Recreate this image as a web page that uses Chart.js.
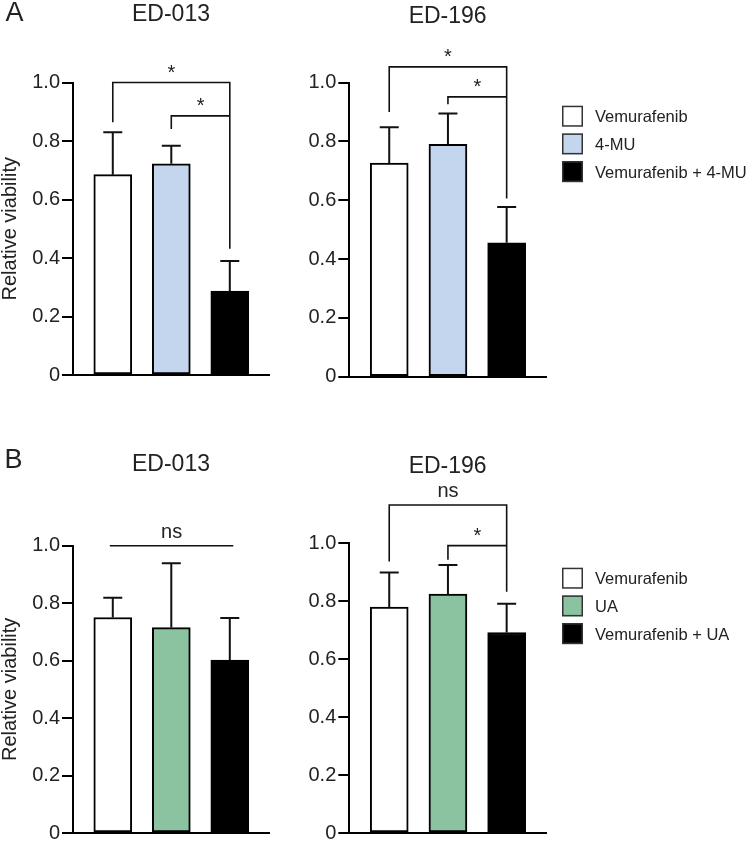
<!DOCTYPE html>
<html>
<head>
<meta charset="utf-8">
<script src="https://cdn.jsdelivr.net/npm/chart.js@4.4.1/dist/chart.umd.min.js"></script>
<style>
  html, body { margin: 0; padding: 0; background: #fff; }
  body { width: 749px; height: 847px; position: relative; overflow: hidden; }
  canvas { position: absolute; }
</style>
</head>
<body>
<canvas id="a013" width="280" height="400" style="left:0px; top:0px;"></canvas>
<canvas id="a196" width="469" height="400" style="left:280px; top:0px;"></canvas>
<canvas id="b013" width="280" height="427" style="left:0px; top:420px;"></canvas>
<canvas id="b196" width="469" height="427" style="left:280px; top:420px;"></canvas>

<script>
// ---- data ----
const groupsMU = ['Vemurafenib', '4-MU', 'Vemurafenib + 4-MU'];
const groupsUA = ['Vemurafenib', 'UA', 'Vemurafenib + UA'];

const yTicks = [0, 0.2, 0.4, 0.6, 0.8, 1.0];

// mean relative viability and SD (upper error bar only)
const meanA013 = [0.685, 0.722, 0.287];
const sdA013   = [0.145, 0.062, 0.103];
const meanA196 = [0.726, 0.790, 0.455];
const sdA196   = [0.122, 0.105, 0.122];
const meanB013 = [0.750, 0.715, 0.602];
const sdB013   = [0.069, 0.224, 0.146];
const meanB196 = [0.780, 0.825, 0.692];
const sdB196   = [0.119, 0.100, 0.099];

// significance brackets: bar index span, bracket level, drop ends (in y units)
const sigA013 = [
  { from: 0, to: 2, top: 1.0,   left: 0.864, right: 0.432, text: '*' },
  { from: 1, to: 2, top: 0.886, left: 0.841, right: 0.886, text: '*' }
];
const sigA196 = [
  { from: 0, to: 2, top: 1.053, left: 0.900, right: 0.606, text: '*' },
  { from: 1, to: 2, top: 0.951, left: 0.926, right: 0.951, text: '*' }
];
const sigB013 = [
  { from: -0.05, to: 2.06, top: 1.0, left: 1.0, right: 1.0, text: 'ns' }
];
const sigB196 = [
  { from: 0, to: 2, top: 1.132, left: 0.937, right: 0.833, text: 'ns' },
  { from: 1, to: 2, top: 0.992, left: 0.943, right: 0.992, text: '*' }
];

const fillMU = ['#ffffff', '#c4d6ed', '#000000'];
const fillUA = ['#ffffff', '#8bc3a1', '#000000'];

const FONT = '"Liberation Sans", Arial, sans-serif';
const INK = '#222';

// ---- error bars, brackets, legend, panel letter ----
const annotPlugin = {
  id: 'annot',
  afterDatasetsDraw(chart, args, opts) {
    const { ctx, chartArea } = chart;
    const x = chart.scales.x, y = chart.scales.y;
    ctx.save();
    ctx.strokeStyle = '#111';
    ctx.lineCap = 'butt';

    // error bars
    ctx.lineWidth = 2;
    opts.means.forEach((m, i) => {
      const px = x.getPixelForValue(i);
      const y0 = y.getPixelForValue(m);
      const y1 = y.getPixelForValue(m + opts.sd[i]);
      ctx.beginPath();
      ctx.moveTo(px, y0);
      ctx.lineTo(px, y1);
      ctx.moveTo(px - 9.5, y1);
      ctx.lineTo(px + 9.5, y1);
      ctx.stroke();
    });

    // brackets
    ctx.lineWidth = 1.6;
    ctx.font = '20px ' + FONT;
    ctx.fillStyle = INK;
    ctx.textAlign = 'center';
    ctx.textBaseline = 'alphabetic';
    opts.sig.forEach(b => {
      const xl = x.getPixelForValue(b.from);
      const xr = x.getPixelForValue(b.to);
      const yt = y.getPixelForValue(b.top);
      ctx.beginPath();
      ctx.moveTo(xl, y.getPixelForValue(b.left));
      ctx.lineTo(xl, yt);
      ctx.lineTo(xr, yt);
      ctx.lineTo(xr, y.getPixelForValue(b.right));
      ctx.stroke();
      const m = ctx.measureText(b.text);
      const cy = yt - 13.5;
      const base = cy + (m.actualBoundingBoxAscent - m.actualBoundingBoxDescent) / 2;
      ctx.fillText(b.text, (xl + xr) / 2, base);
    });

    // legend to the right of the plot
    if (opts.legend) {
      const lx = chartArea.right + 16;
      let ly = chartArea.top + opts.legend.top;
      ctx.font = '16.5px ' + FONT;
      ctx.textAlign = 'left';
      ctx.lineWidth = 1.5;
      ctx.strokeStyle = '#333';
      opts.legend.labels.forEach((lab, i) => {
        ctx.fillStyle = opts.legend.fills[i];
        ctx.fillRect(lx, ly, 21, 21);
        ctx.strokeRect(lx + 0.75, ly + 0.75, 19.5, 19.5);
        ctx.fillStyle = INK;
        ctx.fillText(lab, lx + 33, ly + 10.5 + 6.2);
        ly += 27.7;
      });
    }

    // panel letter
    if (opts.letter) {
      ctx.font = '27px ' + FONT;
      ctx.textAlign = 'left';
      ctx.fillStyle = INK;
      ctx.fillText(opts.letter.text, opts.letter.x, opts.letter.y);
    }
    ctx.restore();
  }
};

function makeChart(id, cfg) {
  const ctx = document.getElementById(id).getContext('2d');
  return new Chart(ctx, {
    type: 'bar',
    data: {
      datasets: [{
        data: cfg.means.map((v, i) => ({ x: i, y: v })),
        backgroundColor: cfg.fill,
        borderColor: '#000',
        borderWidth: 2,
        borderSkipped: false,
        barThickness: 38
      }]
    },
    options: {
      responsive: false,
      animation: false,
      layout: {
        autoPadding: false,
        padding: { left: 0, right: cfg.padRight, top: 0, bottom: cfg.padBottom }
      },
      plugins: {
        legend: { display: false },
        tooltip: { enabled: false },
        title: {
          display: true,
          text: cfg.title,
          fullSize: false,
          color: INK,
          font: { family: FONT, size: 23, weight: 'normal', lineHeight: 1.2 },
          padding: { top: cfg.titleTop, bottom: cfg.titleBottom }
        },
        annot: { means: cfg.means, sd: cfg.sd, sig: cfg.sig, legend: cfg.legend, letter: cfg.letter }
      },
      scales: {
        x: {
          type: 'linear',
          min: -0.68,
          max: 2.67,
          offset: false,
          ticks: { display: false },
          grid: { display: false },
          border: { display: true, color: '#000', width: 2 },
          afterFit: s => { s.height = 0; }
        },
        y: {
          min: 0,
          max: 1,
          afterBuildTicks: s => { s.ticks = yTicks.map(v => ({ value: v })); },
          afterFit: s => { s.width = cfg.yWidth; },
          ticks: {
            color: INK,
            padding: 2,
            font: { family: FONT, size: 20 },
            callback: v => (v === 0 ? '0' : v.toFixed(1))
          },
          grid: { display: true, drawOnChartArea: false, drawTicks: true, tickLength: 11, color: '#000', lineWidth: 2 },
          border: { display: true, color: '#000', width: 2 },
          title: {
            display: cfg.yTitle,
            text: 'Relative viability',
            color: INK,
            font: { family: FONT, size: 20, lineHeight: 1 },
            padding: 0
          }
        }
      }
    },
    plugins: [annotPlugin]
  });
}

makeChart('a013', { title: 'ED-013', means: meanA013, sd: sdA013, sig: sigA013, fill: fillMU,
  yWidth: 73, yTitle: true, padRight: 11, padBottom: 25, titleTop: 1.2, titleBottom: 53.7,
  letter: { text: 'A', x: 5.5, y: 20.7 } });
makeChart('a196', { title: 'ED-196', means: meanA196, sd: sdA196, sig: sigA196, fill: fillMU,
  yWidth: 69.3, yTitle: false, padRight: 203, padBottom: 23.3, titleTop: 2.9, titleBottom: 52,
  legend: { labels: groupsMU, fills: fillMU, top: 23.2 } });
makeChart('b013', { title: 'ED-013', means: meanB013, sd: sdB013, sig: sigB013, fill: fillUA,
  yWidth: 73, yTitle: true, padRight: 11, padBottom: 11.3, titleTop: 31.2, titleBottom: 66.9,
  letter: { text: 'B', x: 4.6, y: 48.3 } });
makeChart('b196', { title: 'ED-196', means: meanB196, sd: sdB196, sig: sigB196, fill: fillUA,
  yWidth: 69.3, yTitle: false, padRight: 203, padBottom: 13, titleTop: 32.9, titleBottom: 62.8,
  legend: { labels: groupsUA, fills: fillUA, top: 24.4 } });
</script>
</body>
</html>
